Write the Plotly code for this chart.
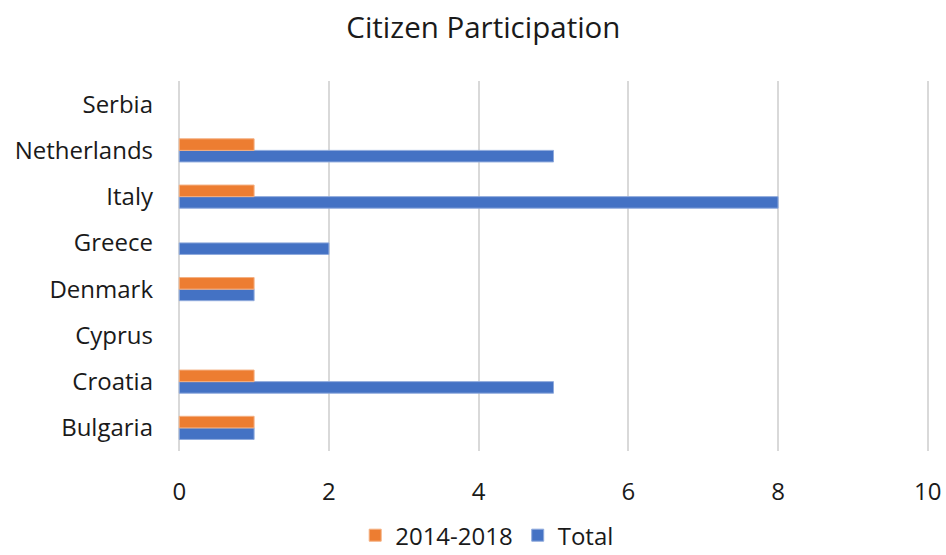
import plotly.graph_objects as go

countries = ["Bulgaria", "Croatia", "Cyprus", "Denmark", "Greece", "Italy", "Netherlands", "Serbia"]
period_2014_2018 = [1, 1, 0, 1, 0, 1, 1, 0]
total = [1, 5, 0, 1, 2, 8, 5, 0]
x_ticks = [0, 2, 4, 6, 8, 10]

FONT = "Open Sans"
GRID = "#d9d9d9"


def outline_widths(values):
    # no outline sliver for empty bars
    return [1 if v else 0 for v in values]


fig = go.Figure()
# Horizontal grouped bars stack bottom-to-top in trace order, so Total goes first
fig.add_trace(go.Bar(
    y=countries, x=total, name="Total", orientation="h",
    marker=dict(color="#4472C4",
                line=dict(color="#8FAADC", width=outline_widths(total))),
    legendrank=2,
))
fig.add_trace(go.Bar(
    y=countries, x=period_2014_2018, name="2014-2018", orientation="h",
    marker=dict(color="#ED7D31",
                line=dict(color="#F4B183", width=outline_widths(period_2014_2018))),
    legendrank=1,
))

fig.update_layout(
    width=946, height=555,
    margin=dict(l=177, r=16, t=81, b=104, autoexpand=False),
    paper_bgcolor="white", plot_bgcolor="white",
    barmode="group", bargap=0.5, bargroupgap=0,
    font=dict(family=FONT, color="#1a1a1a", size=24),
    title=dict(text="Citizen Participation", x=0.511, xanchor="center",
               y=0.95, yanchor="middle", font=dict(size=29.5, family=FONT)),
    # range padded slightly so the gridlines at 0 and 10 stay inside the plot
    xaxis=dict(range=[-0.03, 10.03], tickvals=x_ticks, showgrid=True,
               gridcolor=GRID, gridwidth=1.5, zeroline=True,
               zerolinecolor=GRID, zerolinewidth=1.5,
               showline=False, ticks="", ticklabelstandoff=24,
               tickfont=dict(size=24)),
    yaxis=dict(categoryorder="array", categoryarray=countries,
               showgrid=False, zeroline=False, showline=False, ticks="",
               ticklabelstandoff=23, tickfont=dict(size=24)),
    legend=dict(orientation="h", xref="container", x=0.515, xanchor="center",
                yref="container", y=0.035, yanchor="middle",
                font=dict(size=24), itemwidth=30, tracegroupgap=0),
    showlegend=True,
)

fig.write_html("out.html")
